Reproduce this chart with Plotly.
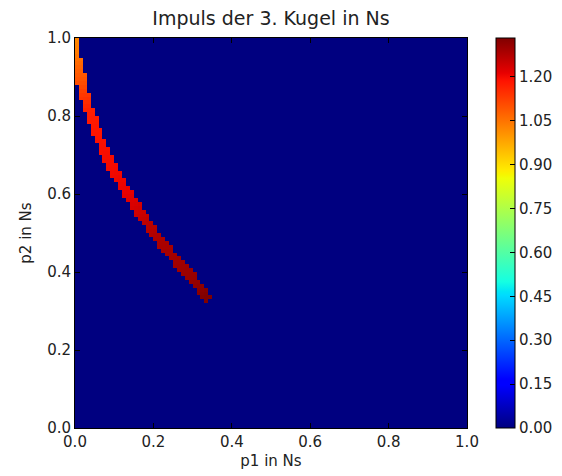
import numpy as np
import plotly.graph_objects as go

# Ridge of non-zero values: (p1, p2) along the band and the value there
band_p1 = [0.000, 0.000, 0.010, 0.016, 0.024, 0.035, 0.048, 0.063, 0.080, 0.100, 0.125,
           0.150, 0.180, 0.210, 0.245, 0.280, 0.310, 0.335]
band_p2 = [1.000, 0.960, 0.930, 0.890, 0.850, 0.815, 0.780, 0.740, 0.700, 0.660, 0.615,
           0.575, 0.530, 0.490, 0.445, 0.405, 0.370, 0.337]
band_val = [1.02, 1.04, 1.07, 1.10, 1.14, 1.17, 1.18, 1.19, 1.195, 1.20, 1.21,
            1.23, 1.26, 1.28, 1.29, 1.30, 1.31, 1.333]

n_grid = 100
cb_ticks = [0.00, 0.15, 0.30, 0.45, 0.60, 0.75, 0.90, 1.05, 1.20]
axis_ticks = [0.0, 0.2, 0.4, 0.6, 0.8, 1.0]

# build grid (background value 0, band cells take the value of the nearest ridge point)
centers = (np.arange(n_grid) + 0.5) / n_grid
X, Y = np.meshgrid(centers, centers)
bx, by, bv = map(np.array, (band_p1, band_p2, band_val))
best_d = np.full(X.shape, np.inf)
best_v = np.zeros(X.shape)
for i in range(len(bx) - 1):
    ax_, ay_ = bx[i], by[i]
    dx, dy = bx[i + 1] - ax_, by[i + 1] - ay_
    t = np.clip(((X - ax_) * dx + (Y - ay_) * dy) / (dx * dx + dy * dy), 0, 1)
    d = np.hypot(X - (ax_ + t * dx), Y - (ay_ + t * dy))
    v = bv[i] + t * (bv[i + 1] - bv[i])
    m = d < best_d
    best_d[m] = d[m]
    best_v[m] = v[m]
Z = np.where(best_d < 0.0125, best_v, 0.0)

# matplotlib "jet"
seg_r = [(0, 0), (0.35, 0), (0.66, 1), (0.89, 1), (1, 0.5)]
seg_g = [(0, 0), (0.125, 0), (0.375, 1), (0.64, 1), (0.91, 0), (1, 0)]
seg_b = [(0, 0.5), (0.11, 1), (0.34, 1), (0.65, 0), (1, 0)]
stops = sorted(set([p for s in (seg_r, seg_g, seg_b) for p, _ in s]))
def ch(seg, x):
    return np.interp(x, [p for p, _ in seg], [v for _, v in seg])
jet = [[s, "rgb(%d,%d,%d)" % (round(255 * ch(seg_r, s)), round(255 * ch(seg_g, s)), round(255 * ch(seg_b, s)))]
       for s in stops]

zmax = max(band_val)
fig = go.Figure(go.Heatmap(
    x=centers, y=centers, z=Z, zmin=0, zmax=zmax, colorscale=jet, zsmooth=False,
    hoverinfo="skip",
    colorbar=dict(
        x=(496 - 75) / 392, xanchor="left", xref="paper", xpad=0, ypad=0,
        y=0.5, yanchor="middle", len=1, lenmode="fraction",
        thickness=19, outlinewidth=1, outlinecolor="black",
        tickvals=cb_ticks, ticktext=["%.2f" % v for v in cb_ticks],
        ticks="inside", ticklen=5, tickcolor="black",
        tickfont=dict(family="DejaVu Sans", size=15, color="#222"),
    ),
))

font = dict(family="DejaVu Sans", size=15, color="#222")
axcommon = dict(range=[0, 1], tickvals=axis_ticks, ticktext=["%.1f" % v for v in axis_ticks],
                ticks="inside", ticklen=5, tickcolor="black", showline=True, linecolor="black",
                linewidth=1, mirror="ticks", showgrid=False, zeroline=False, tickfont=font)
fig.update_layout(
    width=562, height=476,
    margin=dict(l=75, r=95, t=38, b=48, autoexpand=False),
    paper_bgcolor="white", plot_bgcolor="white",
    title=dict(text="Impuls der 3. Kugel in Ns", x=271 / 562, xanchor="center",
               y=1 - 18 / 476, yanchor="middle", font=dict(family="DejaVu Sans", size=19, color="#222")),
    xaxis=dict(axcommon, title=dict(text="p1 in Ns", font=font, standoff=5)),
    yaxis=dict(axcommon, title=dict(text="p2 in Ns", font=font, standoff=11)),
)
fig.write_html("out.html")
